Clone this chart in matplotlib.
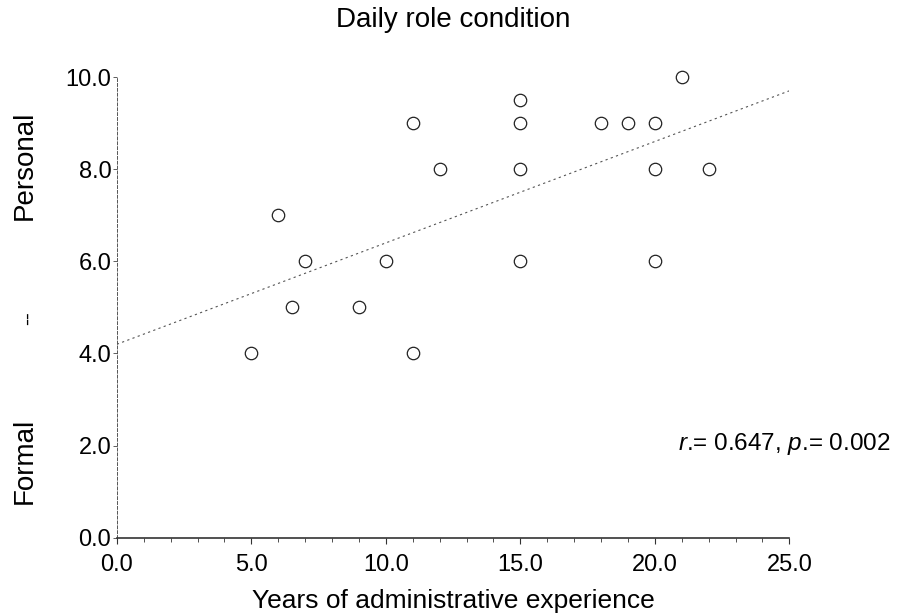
import matplotlib
matplotlib.use("Agg")
from matplotlib import pyplot as plt
from matplotlib.ticker import MultipleLocator, FormatStrFormatter
import numpy as np

plt.rcParams["font.family"] = ["Liberation Sans", "DejaVu Sans"]
plt.rcParams["mathtext.fontset"] = "custom"
plt.rcParams["mathtext.rm"] = "Liberation Sans"
plt.rcParams["mathtext.it"] = "Liberation Sans:italic"


# dati
years = [5, 6, 6.5, 7, 9, 10, 11, 11, 12, 15, 15, 15, 15, 18, 19, 20, 20, 20, 21, 22]
condition = [4, 7, 5, 6, 5, 6, 9, 4, 8, 9.5, 9, 8, 6, 9, 9, 9, 8, 6, 10, 8]

# retta di regressione
fit_intercept = 4.2
fit_slope = 0.22
fit_x = [0, 25]

r_value = 0.647
p_value = 0.002


fig = plt.figure(figsize=(8.99, 6.16), dpi=100)
ax = fig.add_axes([0.130, 0.127, 0.748, 0.748])

fx = np.array(fit_x, dtype=float)
ax.plot(fx, fit_intercept + fit_slope * fx, color="#555555", linestyle=(0, (2, 3)),
        linewidth=0.8, zorder=1)

ax.scatter(years, condition, s=80, facecolors="white", edgecolors="#222222",
           linewidths=0.9, zorder=2, clip_on=False)

ax.set_xlim(0, 25)
ax.set_ylim(0, 10)

ax.xaxis.set_major_locator(MultipleLocator(5))
ax.xaxis.set_minor_locator(MultipleLocator(1))
ax.yaxis.set_major_locator(MultipleLocator(2))
ax.xaxis.set_major_formatter(FormatStrFormatter("%.1f"))
ax.yaxis.set_major_formatter(FormatStrFormatter("%.1f"))

ax.tick_params(axis="x", which="major", direction="out", length=4, width=0.8,
               labelsize=17, pad=8, color="#333333")
ax.tick_params(axis="x", which="minor", direction="out", length=3, width=0.6,
               color="#333333")
ax.tick_params(axis="y", which="major", direction="out", length=3, width=0.6,
               labelsize=17, pad=1, color="#444444")

for side in ["top", "right"]:
    ax.spines[side].set_visible(False)
ax.spines["bottom"].set_linewidth(1.2)
ax.spines["bottom"].set_color("#333333")
ax.spines["left"].set_linestyle((0, (3, 2)))
ax.spines["left"].set_linewidth(0.7)
ax.spines["left"].set_color("#555555")

ax.set_xlabel("Years of administrative experience", fontsize=19, labelpad=9)

fig.text(0.504, 0.956, "Daily role condition", ha="center", va="baseline", fontsize=20)

# etichette asse y
fig.text(0.028, 0.732, "Personal", rotation=90, ha="center", va="center", fontsize=20)
fig.text(0.031, 0.483, "--", rotation=90, ha="center", va="center", fontsize=15)
fig.text(0.028, 0.252, "Formal", rotation=90, ha="center", va="center", fontsize=20)

fig.text(0.991, 0.280, r"$\it{r}$.= %.3f, $\it{p}$.= %.3f" % (r_value, p_value),
         ha="right", va="center", fontsize=17.5)

fig.savefig("out.png", dpi=100)
plt.close(fig)
